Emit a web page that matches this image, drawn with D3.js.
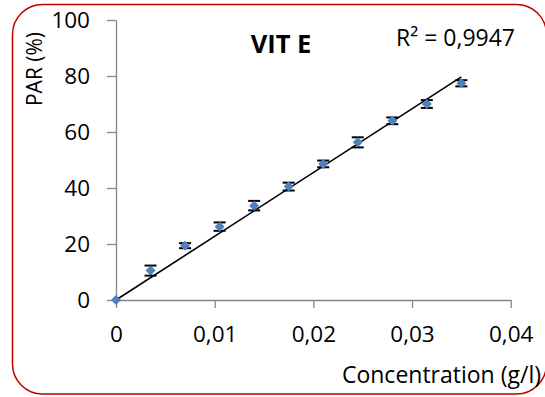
<!DOCTYPE html>
<html>
    <head>
        <script src="https://d3js.org/d3.v7.js"></script>
        <style>
            body{
                margin: 0;
                background: white;
            }
            text{
                font-family: 'Open Sans', sans-serif;
                fill: black;
            }
        </style>
    </head>
    <body>
        <div class='graph'></div>
        <script>
            const concentrations = [0, 0.0035, 0.007, 0.0105, 0.014, 0.0175, 0.021, 0.0245, 0.028, 0.0315, 0.035]
            const parValues = [0, 10.5, 19.4, 26.2, 33.7, 40.5, 48.6, 56.3, 64.0, 70.0, 77.4]
            const parErrors = [0, 1.8, 0.9, 1.5, 1.7, 1.4, 1.2, 1.8, 1.2, 1.4, 1.1]
            const xTicks = [0, 0.01, 0.02, 0.03, 0.04]
            const yTicks = [0, 20, 40, 60, 80, 100]
            const chartTitle = 'VIT E'
            const r2Label = 'R² = 0,9947'
            const xLabel = 'Concentration (g/l)'
            const yLabel = 'PAR (%)'

            const w = 545
            const h = 397

            const svg = d3.select('.graph')
                    .append('svg')
                    .attr('width', w)
                    .attr('height', h)

            // outer chart frame
            svg.append('rect')
                .attr('x', 12.5)
                .attr('y', 4.5)
                .attr('width', 534)
                .attr('height', 389.5)
                .attr('rx', 30)
                .attr('ry', 30)
                .style('fill', 'white')
                .style('stroke', '#c00000')
                .style('stroke-width', 1.5)

            const x = d3.scaleLinear().domain([0, 0.04]).range([116, 510.7])
            const y = d3.scaleLinear().domain([0, 100]).range([300, 20])

            const comma = d => String(d).replace('.', ',')

            const xAxis = svg.append('g')
                .attr('transform', 'translate(0,' + y(0) + ')')
                .call(d3.axisBottom(x).tickValues(xTicks).tickFormat(comma).tickSize(8).tickSizeOuter(0).tickPadding(18))

            const yAxis = svg.append('g')
                .attr('transform', 'translate(' + x(0) + ',0)')
                .call(d3.axisLeft(y).tickValues(yTicks).tickSize(9).tickSizeOuter(0).tickPadding(17))

            svg.selectAll('.domain, .tick line')
                .style('stroke', '#868686')
                .style('stroke-width', 1.3)
            svg.selectAll('.tick text')
                .style('font-family', "'Open Sans', sans-serif")
                .style('font-size', '22.5px')
                .style('fill', 'black')

            // linear trend line forced through origin
            const sxy = d3.sum(concentrations, (c, i) => c * parValues[i])
            const sxx = d3.sum(concentrations, c => c * c)
            const slope = sxy / sxx
            const xMax = d3.max(concentrations)

            svg.append('line')
                .attr('x1', x(0))
                .attr('y1', y(0))
                .attr('x2', x(xMax))
                .attr('y2', y(slope * xMax))
                .style('stroke', 'black')
                .style('stroke-width', 1.6)

            const points = concentrations.map((c, i) => ({c: c, v: parValues[i], e: parErrors[i]}))

            const bars = svg.append('g')
                .selectAll('g')
                .data(points.filter(p => p.e > 0))
                .enter()
                .append('g')

            bars.append('line')
                .attr('x1', p => x(p.c))
                .attr('x2', p => x(p.c))
                .attr('y1', p => y(p.v + p.e))
                .attr('y2', p => y(p.v - p.e))
                .style('stroke', 'black')
                .style('stroke-width', 1.5)

            bars.selectAll('.cap')
                .data(p => [p.v + p.e, p.v - p.e].map(v => ({c: p.c, v: v})))
                .enter()
                .append('line')
                .attr('class', 'cap')
                .attr('x1', d => x(d.c) - 6)
                .attr('x2', d => x(d.c) + 6)
                .attr('y1', d => y(d.v))
                .attr('y2', d => y(d.v))
                .style('stroke', 'black')
                .style('stroke-width', 2)

            svg.append('g')
                .selectAll('path')
                .data(points)
                .enter()
                .append('path')
                .attr('d', d3.symbol().type(d3.symbolSquare).size(50))
                .attr('transform', p => 'translate(' + x(p.c) + ',' + y(p.v) + ') rotate(45)')
                .style('fill', '#4f81bd')

            svg.append('text')
                .attr('x', 281)
                .attr('y', 53)
                .attr('text-anchor', 'middle')
                .style('font-size', '25.5px')
                .style('font-weight', 'bold')
                .text(chartTitle)

            svg.append('text')
                .attr('x', 515)
                .attr('y', 46)
                .attr('text-anchor', 'end')
                .style('font-size', '23px')
                .text(r2Label)

            svg.append('text')
                .attr('x', 541)
                .attr('y', 383)
                .attr('text-anchor', 'end')
                .style('font-size', '23px')
                .text(xLabel)

            svg.append('text')
                .attr('transform', 'translate(42,69) rotate(-90)')
                .attr('text-anchor', 'middle')
                .style('font-size', '21px')
                .text(yLabel)
        </script>
    </body>
</html>
